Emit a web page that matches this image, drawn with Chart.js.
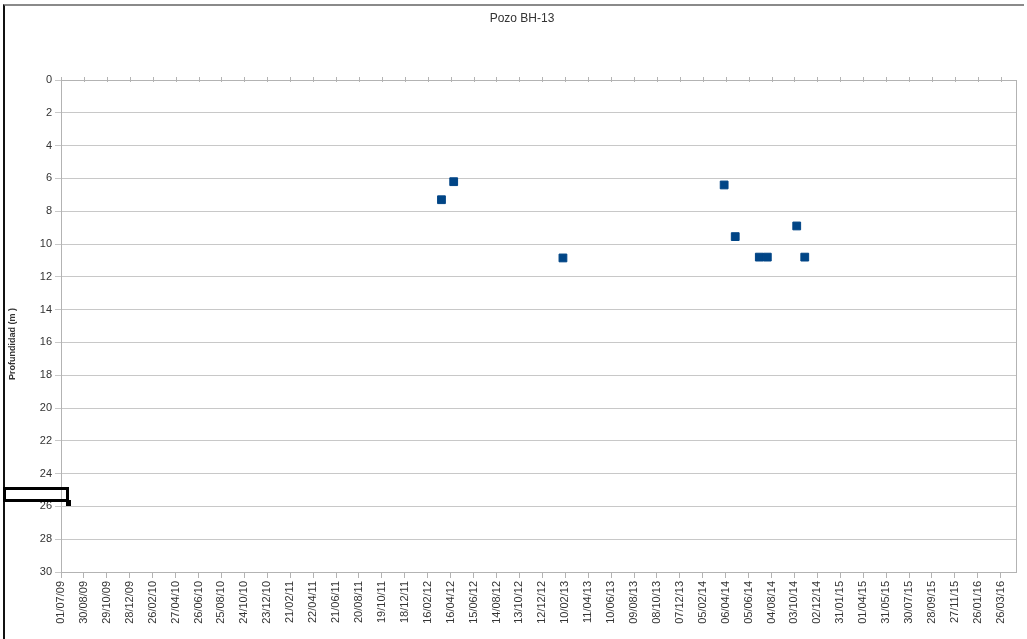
<!DOCTYPE html>
<html><head><meta charset="utf-8">
<script src="https://cdn.jsdelivr.net/npm/chart.js@4.4.0/dist/chart.umd.min.js"></script>
<style>
html,body{margin:0;padding:0;background:#fff;overflow:hidden}
#wrap{position:relative;width:1027px;height:639px}
canvas{position:absolute;left:0;top:0}
.frame{position:absolute;left:3px;top:4px;width:1021px;height:640px;border-top:2px solid #8a8a8a;border-left:2px solid #111;box-sizing:border-box;pointer-events:none}
.box{position:absolute;left:3px;top:487px;width:66px;height:15px;border:3px solid #000;box-sizing:border-box}
.nub{position:absolute;left:66px;top:500px;width:5px;height:6px;background:#000}
</style></head><body>
<div id="wrap"><canvas id="c" width="1027" height="639"></canvas><div class="frame"></div><div class="box"></div><div class="nub"></div></div>
<script>
const chartTitle = 'Pozo BH-13';
const yAxisTitle = 'Profundidad (m )';
const sampleDates = ['23/03/12','24/04/12','04/02/13','02/04/14','01/05/14','03/07/14','24/07/14','09/10/14','30/10/14'];
const depths = [7.3, 6.2, 10.85, 6.4, 9.55, 10.8, 10.8, 8.9, 10.8];
const xTickLabels = ['01/07/09','30/08/09','29/10/09','28/12/09','26/02/10','27/04/10','26/06/10','25/08/10','24/10/10','23/12/10','21/02/11','22/04/11','21/06/11','20/08/11','19/10/11','18/12/11','16/02/12','16/04/12','15/06/12','14/08/12','13/10/12','12/12/12','10/02/13','11/04/13','10/06/13','09/08/13','08/10/13','07/12/13','05/02/14','06/04/14','05/06/14','04/08/14','03/10/14','02/12/14','31/01/15','01/04/15','31/05/15','30/07/15','28/09/15','27/11/15','26/01/16','26/03/16'];
const xStart = '01/07/09';
const xEnd = '05/05/16';
const yMin = 0, yMax = 30, yStep = 2;

const FONT = 'Liberation Sans';
function toDay(s){
  const p = s.split('/').map(Number);
  const b = xStart.split('/').map(Number);
  return (Date.UTC(2000+p[2], p[1]-1, p[0]) - Date.UTC(2000+b[2], b[1]-1, b[0])) / 86400000;
}

const extras = {
  id: 'extras',
  afterDraw(chart){
    const ctx = chart.ctx, a = chart.chartArea, xs = chart.scales.x;
    ctx.save();
    ctx.strokeStyle = '#b3b3b3';
    ctx.lineWidth = 1;
    ctx.strokeRect(Math.round(a.left)+0.5, Math.round(a.top)+0.5, Math.round(a.right-a.left), Math.round(a.bottom-a.top));
    ctx.beginPath();
    xs.ticks.forEach(t => {
      const px = Math.round(xs.getPixelForValue(t.value)) + 0.5;
      ctx.moveTo(px, a.top - 3);
      ctx.lineTo(px, a.top + 2);
    });
    ctx.stroke();
    // chart title
    ctx.fillStyle = '#333';
    ctx.font = '12px ' + FONT;
    ctx.textAlign = 'center';
    ctx.textBaseline = 'middle';
    ctx.fillText(chartTitle, 522, 19);
    // y axis title
    ctx.translate(13, 344);
    ctx.rotate(-Math.PI/2);
    ctx.font = 'bold 9px ' + FONT;
    ctx.fillText(yAxisTitle, 0, 0);
    ctx.restore();
  }
};

new Chart(document.getElementById('c'), {
  type: 'scatter',
  data: {
    datasets: [{
      data: sampleDates.map((d, i) => ({x: toDay(d), y: depths[i]})),
      pointStyle: 'rect',
      pointRadius: 5.5,
      pointHoverRadius: 5.5,
      backgroundColor: '#004586',
      borderColor: '#004586',
      borderWidth: 1,
      showLine: false
    }]
  },
  options: {
    responsive: false,
    animation: false,
    devicePixelRatio: 1,
    layout: {padding: {left: 0, right: 11, top: 80, bottom: 0}},
    plugins: {
      legend: {display: false},
      tooltip: {enabled: false},
      title: {display: false}
    },
    scales: {
      x: {
        type: 'linear',
        min: toDay(xStart), max: toDay(xEnd),
        afterBuildTicks: s => { s.ticks = xTickLabels.map(l => ({value: toDay(l)})); },
        afterFit: s => { s.height = 67; },
        ticks: {
          autoSkip: false, minRotation: 90, maxRotation: 90, padding: 3,
          color: '#333', font: {family: FONT, size: 11},
          callback: (v, i) => xTickLabels[i]
        },
        grid: {drawOnChartArea: false, tickLength: 6, color: '#b3b3b3'},
        border: {color: '#b3b3b3'}
      },
      y: {
        min: yMin, max: yMax, reverse: true,
        afterFit: s => { s.width = 61; },
        ticks: {stepSize: yStep, padding: 3, color: '#333', font: {family: FONT, size: 11}},
        grid: {color: '#c8c8c8', tickLength: 6},
        border: {color: '#b3b3b3'}
      }
    }
  },
  plugins: [extras]
});
</script>
</body></html>
